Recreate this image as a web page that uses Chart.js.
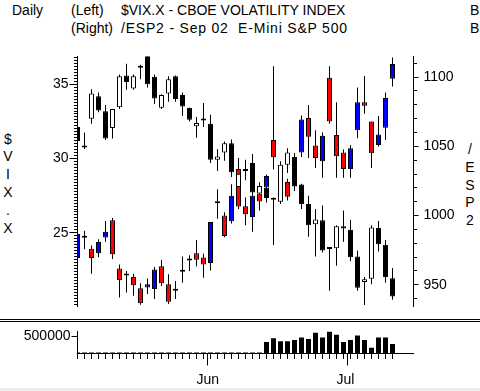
<!DOCTYPE html>
<html><head><meta charset="utf-8">
<script src="https://cdn.jsdelivr.net/npm/chart.js@4"></script>
<style>
html,body{margin:0;padding:0;background:#fff;width:480px;height:391px;overflow:hidden;}
body{position:relative;}
.t{position:absolute;font-family:'Liberation Sans',Arial,sans-serif;color:#000;white-space:pre;}
.hdr{font-size:14px;line-height:14px;}
.stack{font-size:14px;line-height:17.9px;text-align:center;width:20px;}
.sep{position:absolute;left:0;width:480px;height:1px;background:#000;}
#main{position:absolute;left:0;top:0;}
#vol{position:absolute;left:0;top:322px;}
</style></head><body>
<div class="t hdr" style="left:12px;top:3px">Daily</div>
<div class="t hdr" style="left:71px;top:3px">(Left)</div>
<div class="t hdr" style="left:121px;top:3px">$VIX.X - CBOE VOLATILITY INDEX</div>
<div class="t hdr" style="left:470px;top:3px">B.</div>
<div class="t hdr" style="left:71px;top:21px">(Right)</div>
<div class="t hdr" style="left:121px;top:21px;letter-spacing:0.8px">/ESP2 - Sep 02  E-Mini S&amp;P 500</div>
<div class="t hdr" style="left:470px;top:21px">B.</div>
<div class="t stack" style="left:-2px;top:130.5px">$<br>V<br>I<br>X<br>.<br>X</div>
<div class="t stack" style="left:460px;top:140.7px">/<br>E<br>S<br>P<br>2</div>
<canvas id="main" width="480" height="320"></canvas>
<div class="sep" style="top:319px"></div>
<div class="sep" style="top:321px"></div>
<canvas id="vol" width="480" height="69"></canvas>
<div style="position:absolute;left:0;top:388px;width:480px;height:3px;background:#eef0e8"></div>
<script>
// ---- data (trading days; last three slots are empty future days) ----
const dates = [
 '2002-05-06','2002-05-07','2002-05-08','2002-05-09','2002-05-10','2002-05-13','2002-05-14','2002-05-15','2002-05-16','2002-05-17',
 '2002-05-20','2002-05-21','2002-05-22','2002-05-23','2002-05-24','2002-05-28','2002-05-29','2002-05-30','2002-05-31',
 '2002-06-03','2002-06-04','2002-06-05','2002-06-06','2002-06-07','2002-06-10','2002-06-11','2002-06-12','2002-06-13','2002-06-14',
 '2002-06-17','2002-06-18','2002-06-19','2002-06-20','2002-06-21','2002-06-24','2002-06-25','2002-06-26','2002-06-27','2002-06-28',
 '2002-07-01','2002-07-02','2002-07-03','2002-07-05','2002-07-08','2002-07-09','2002-07-10',
 '2002-07-11','2002-07-12','2002-07-15'];
const monthLabels = ['Jun','Jul'];
const monthStarts = ['2002-06-03','2002-07-01'];

// /ESP2 - Sep 02 E-Mini S&P 500 (right axis)
const esOpen  = [1064.0,1049.1,1069.9,1086.1,1075.4,1063.3,1078.3,1101.2,1091.8,1106.7,1117.0,1100.3,1077.8,1088.2,1100.7,1087.0,1077.8,1064.5,1068.7,
 1066.4,1040.3,1045.6,1052.2,1020.7,1032.1,1037.9,1015.9,1020.1,1011.4,1010.0,1036.7,1042.2,1022.5,1008.3,993.7,996.5,975.9,976.3,992.3,
 989.8,970.4,951.9,954.3,991.0,978.8,954.6];
const esHigh  = [1077.5,1060.0,1091.3,1088.9,1079.9,1077.0,1101.9,1109.7,1101.9,1109.0,1118.0,1101.9,1087.7,1100.7,1101.2,1088.9,1077.8,1071.1,1081.3,
 1072.8,1047.9,1053.4,1055.0,1030.1,1040.3,1044.4,1024.0,1020.1,1013.0,1039.2,1048.6,1045.1,1023.0,1014.3,1004.8,1007.2,976.3,993.0,1003.6,
 996.9,974.7,955.5,993.0,996.0,982.3,962.1];
const esLow   = [1053.4,1048.1,1066.4,1074.7,1054.5,1055.7,1077.0,1090.8,1090.8,1098.4,1092.5,1080.6,1077.0,1082.2,1082.2,1071.9,1068.0,1056.2,1064.0,
 1038.0,1032.1,1039.6,1027.8,1020.7,1025.4,1014.3,1015.9,1009.5,978.7,1008.3,1030.8,1017.8,1004.8,984.7,970.4,973.3,945.6,963.8,981.1,
 966.9,945.6,935.4,950.3,974.0,951.5,939.2];
const esClose = [1053.8,1049.1,1088.2,1075.8,1055.7,1077.0,1100.7,1096.4,1100.7,1106.7,1094.8,1084.6,1087.0,1098.4,1084.2,1078.7,1069.2,1066.9,1068.7,
 1040.3,1042.7,1052.2,1031.3,1030.1,1033.7,1016.6,1021.4,1012.6,1011.4,1036.7,1045.6,1020.9,1008.3,993.0,997.2,974.7,975.9,992.3,990.6,
 969.9,947.9,953.9,991.3,979.2,955.5,941.5];

// $VIX.X - CBOE Volatility Index (left axis)
const vixOpen  = [23.30,24.67,23.92,23.63,24.69,25.84,22.60,22.13,22.02,21.27,21.31,21.21,22.75,21.54,21.09,22.37,23.13,23.63,23.34,
 22.97,26.99,26.17,25.77,29.30,26.79,26.06,27.65,28.05,31.25,29.40,28.42,28.20,30.41,32.73,30.87,29.81,35.44,31.58,30.41,
 29.30,31.91,33.79,32.50,30.91,32.07,35.38];
const vixHigh  = [24.95,25.13,24.14,24.56,25.79,25.99,22.86,22.42,22.24,21.60,21.93,22.70,23.19,22.20,21.75,23.41,23.48,24.52,23.59,
 25.73,27.93,26.39,28.27,30.03,27.38,27.72,27.65,28.93,36.21,29.50,28.64,29.80,32.90,33.61,31.91,31.75,36.21,33.79,30.60,
 30.91,34.78,35.55,32.50,32.86,34.45,36.80];
const vixLow   = [22.75,23.89,22.24,23.36,24.40,23.23,20.65,20.98,20.76,20.15,20.87,20.54,21.42,20.21,20.54,21.64,22.42,22.75,21.97,
 22.46,25.95,24.70,25.62,26.61,25.51,25.07,26.50,27.90,29.26,27.60,27.17,28.10,30.10,30.03,29.37,28.71,32.35,28.71,28.71,
 28.71,31.36,33.01,29.37,30.81,31.25,34.85];
const vixClose = [24.91,24.67,23.30,24.38,25.07,23.56,21.80,22.13,21.47,20.25,21.54,22.53,21.60,20.36,21.09,22.37,23.13,23.19,22.86,
 25.73,26.99,24.78,27.50,26.77,26.24,27.50,27.10,28.82,30.08,28.20,27.43,29.60,32.62,31.47,30.03,31.54,32.50,30.15,29.30,
 30.70,33.79,33.56,30.36,31.62,34.07,36.37];

// /ESP2 volume (lower panel)
const volume = [30000,30000,30000,30000,30000,30000,30000,30000,30000,30000,30000,30000,30000,30000,30000,30000,30000,30000,30000,
 30000,30000,30000,30000,30000,30000,30000,30000,336000,445000,363000,363000,399000,473000,426000,609000,473000,645000,555000,336000,
 399000,527000,399000,172000,473000,473000,281000];

// ---- chart ----
const TICKFONT = {family:"'Liberation Sans',sans-serif", size:14};
const MONTHFONT = {family:"'Liberation Sans',sans-serif", size:14};

const esBody = esOpen.map((o,i)=>[o, esClose[i]]);
const esRange = esLow.map((l,i)=>[l, esHigh[i]]);
const vixBody = vixOpen.map((o,i)=>[o, vixClose[i]]);
const vixRange = vixLow.map((l,i)=>[l, vixHigh[i]]);

const bodyBase = {type:'bar', grouped:false, maxBarThickness:5, minBarLength:2, borderWidth:1,
  borderColor:'#000', borderSkipped:false, inflateAmount:0};
const wickBase = {type:'bar', grouped:false, maxBarThickness:1, borderWidth:0, backgroundColor:'#000', inflateAmount:0};

const minorTicks = {
  id:'minorTicks',
  afterDraw(chart){
    const ctx = chart.ctx, L = chart.scales.vix, R = chart.scales.es;
    ctx.save(); ctx.fillStyle = '#000';
    const lx = Math.floor(L.right);
    for (let k = Math.ceil(L.min*5); k <= Math.floor(L.max*5); k++) {
      ctx.fillRect(lx-3, Math.floor(L.getPixelForValue(k/5)), 3, 1);
    }
    const rx = Math.ceil(R.left);
    for (let k = Math.ceil(R.min/10); k <= Math.floor(R.max/10); k++) {
      ctx.fillRect(rx, Math.floor(R.getPixelForValue(k*10)), 3, 1);
    }
    ctx.restore();
  }
};

new Chart(document.getElementById('main'), {
  type:'bar',
  data:{labels:dates, datasets:[
    {...bodyBase, label:'/ESP2', data:esBody, yAxisID:'es', order:0,
      backgroundColor: esClose.map((c,i)=> c>=esOpen[i] ? '#ffffff' : '#000000')},
    {...wickBase, label:'/ESP2 range', data:esRange, yAxisID:'es', order:1},
    {...bodyBase, label:'$VIX.X', data:vixBody, yAxisID:'vix', order:2,
      backgroundColor: vixClose.map((c,i)=> c>=vixOpen[i] ? '#0000ff' : '#ff0000')},
    {...wickBase, label:'$VIX.X range', data:vixRange, yAxisID:'vix', order:3}
  ]},
  options:{
    responsive:false, animation:false, devicePixelRatio:1,
    layout:{padding:{top:56.5, bottom:9, left:0, right:0}},
    plugins:{legend:{display:false}, tooltip:{enabled:false}},
    scales:{
      x:{type:'category', display:false, offset:false},
      vix:{type:'linear', position:'left', min:20.03, max:36.87,
        ticks:{stepSize:5, includeBounds:false, color:'#000', font:TICKFONT, padding:1, callback:v=>String(v)},
        grid:{drawOnChartArea:false, tickLength:8, color:'#000'},
        border:{display:true, color:'#000'},
        afterFit(s){ s.width = 77.5; }},
      es:{type:'linear', position:'right', min:934.2, max:1114.9,
        ticks:{stepSize:50, includeBounds:false, color:'#000', font:TICKFONT, padding:5, callback:v=>String(v)},
        grid:{drawOnChartArea:false, tickLength:5, color:'#000'},
        border:{display:true, color:'#000'},
        afterFit(s){ s.width = 66.5; }}
    }
  },
  plugins:[minorTicks]
});

const dayTicks = {
  id:'dayTicks',
  afterDraw(chart){
    const ctx = chart.ctx, x = chart.scales.x, b = Math.round(chart.chartArea.bottom);
    ctx.save(); ctx.fillStyle = '#000';
    for (let i = 0; i < volume.length; i++) ctx.fillRect(Math.floor(x.getPixelForValue(i)), b, 1, 5);
    ctx.restore();
  }
};

new Chart(document.getElementById('vol'), {
  type:'bar',
  data:{labels:dates, datasets:[{label:'Volume', data:volume, backgroundColor:'#000', borderWidth:0,
    grouped:false, maxBarThickness:5, inflateAmount:0}]},
  options:{
    responsive:false, animation:false, devicePixelRatio:1,
    layout:{padding:{top:8, right:66.5, left:0, bottom:0}},
    plugins:{legend:{display:false}, tooltip:{enabled:false}},
    scales:{
      x:{type:'category', offset:false,
        ticks:{autoSkip:false, maxRotation:0, minRotation:0, align:'start', labelOffset:-14, padding:6,
          color:'#000', font:MONTHFONT,
          callback(v,i){ const k = monthStarts.indexOf(dates[i]); return k>=0 ? monthLabels[k] : ''; }},
        grid:{drawOnChartArea:false, tickLength:12,
          tickColor: c => monthStarts.includes(dates[c.index]) ? '#000' : 'rgba(0,0,0,0)'},
        border:{display:true, color:'#000'},
        afterFit(s){ s.height = 37.5; }},
      y:{type:'linear', min:0, max:650000,
        afterBuildTicks(s){ s.ticks = [{value:500000}]; },
        ticks:{color:'#000', font:TICKFONT, padding:1, callback:v=>String(v)},
        grid:{drawOnChartArea:false, tickLength:6, color:'#000'},
        border:{display:true, color:'#000'},
        afterFit(s){ s.width = 77.5; }}
    }
  },
  plugins:[dayTicks]
});
</script>
</body></html>
